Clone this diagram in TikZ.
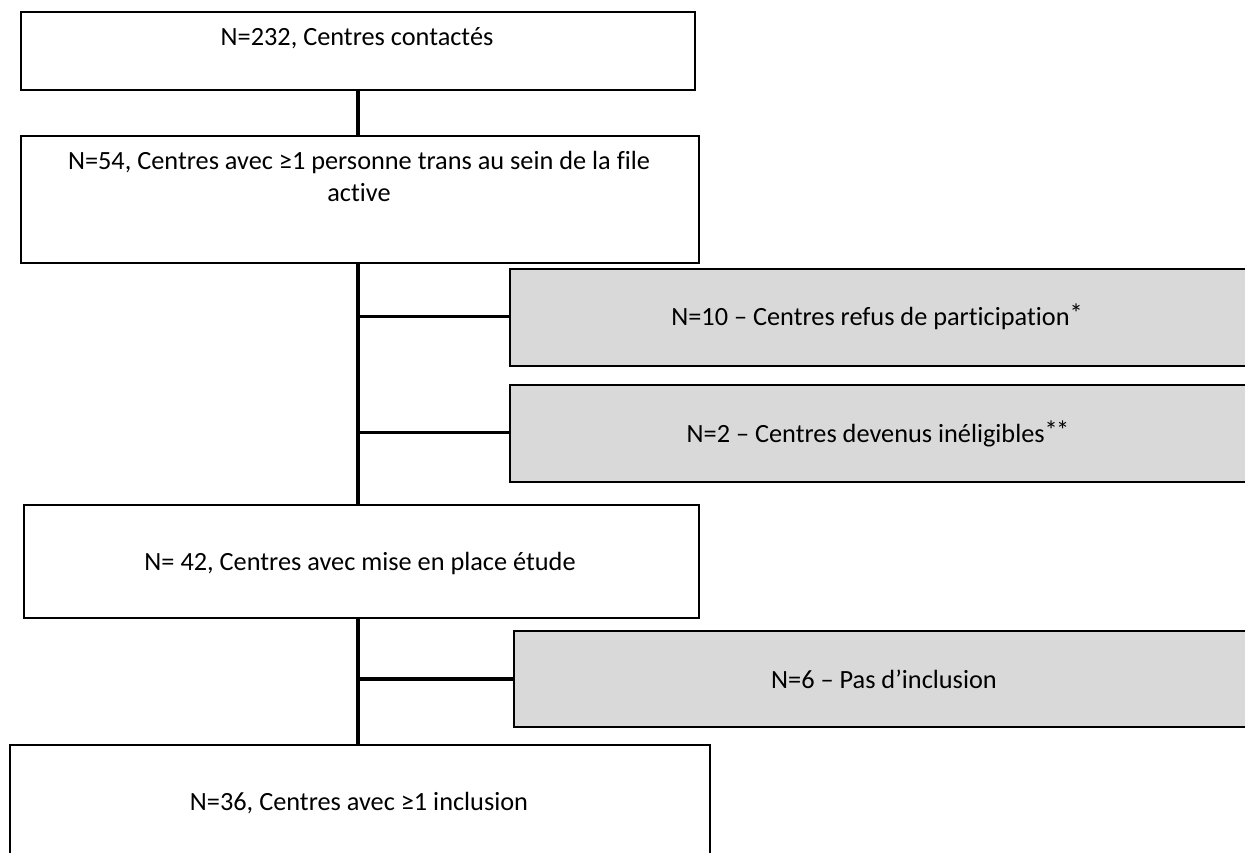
\documentclass[tikz,border=0pt]{standalone}
\usepackage{fontspec}
\setmainfont{Carlito}[Ligatures={NoCommon}]
\definecolor{boxgray}{RGB}{217,217,217}
\newcommand{\upstar}{\raisebox{0.08em}{*}}
\begin{document}
\begin{tikzpicture}[x=1pt,y=-1pt,
  box/.style={draw=black, line width=2pt, fill=white, inner sep=0pt, anchor=north west},
  graybox/.style={box, fill=boxgray},
  txt/.style={inner sep=0pt, anchor=base, font=\fontsize{26.3}{31.5}\selectfont, align=center},
  conn/.style={draw=black, line width=3.4pt}]
\useasboundingbox (0,0) rectangle (1245,853);
% boxes
\node[box, minimum width=674pt, minimum height=78pt] (b1) at (20,11) {};
\node[box, minimum width=678pt, minimum height=127pt] (b2) at (20,135) {};
\node[graybox, minimum width=745pt, minimum height=97pt] (g1) at (509,268) {};
\node[graybox, minimum width=745pt, minimum height=97pt] (g2) at (509,384) {};
\node[box, minimum width=675pt, minimum height=113pt] (b3) at (23,504) {};
\node[graybox, minimum width=740pt, minimum height=96pt] (g3) at (513,630) {};
\node[box, minimum width=700pt, minimum height=120pt] (b4) at (9,744) {};
% texts
\node[txt] (t1) at (357,46) {N=232, Centres contactés};
\node[txt] (t2) at (359,201.5) {N=54, Centres avec ≥1 personne trans au sein de la file\\active};
\node[txt] (tg1) at (877,325) {N=10 – Centres refus de participation\upstar};
\node[txt] (tg2) at (878,442) {N=2 – Centres devenus inéligibles\upstar\kern-0.06em\upstar};
\node[txt] (t3) at (360,570) {N= 42, Centres avec mise en place étude};
\node[txt] (tg3) at (884,688) {N=6 – Pas d’inclusion};
\node[txt] (t4) at (359,810) {N=36, Centres avec ≥1 inclusion};
% connectors
\coordinate (vx) at (358,0);
\coordinate (j1) at (358,316.5);
\coordinate (j2) at (358,432.5);
\coordinate (j3) at (358,679);
\draw[conn] (b1.south -| vx) -- (b2.north -| vx);
\draw[conn] (b2.south -| vx) -- (b3.north -| vx);
\draw[conn] (b3.south -| vx) -- (b4.north -| vx);
\draw[conn] (j1) -- (j1 -| g1.west);
\draw[conn] (j2) -- (j2 -| g2.west);
\draw[conn] (j3) -- (j3 -| g3.west);
\end{tikzpicture}
\end{document}
